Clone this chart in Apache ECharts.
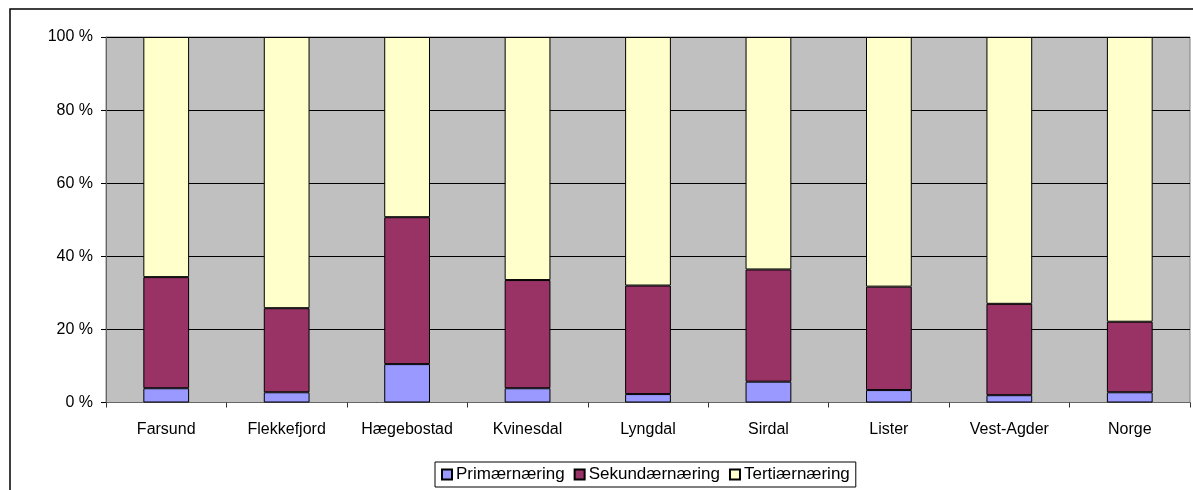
<!DOCTYPE html>
<html>
<head>
<meta charset="utf-8">
<script src="https://cdn.jsdelivr.net/npm/echarts@6/dist/echarts.min.js"></script>
<style>
html,body{margin:0;padding:0;background:#fff;}
#chart{width:1193px;height:490px;}
</style>
</head>
<body>
<div id="chart"></div>
<script>
var categories = ['Farsund','Flekkefjord','Hægebostad','Kvinesdal','Lyngdal','Sirdal','Lister','Vest-Agder','Norge'];
var primaer = [3.9, 2.8, 10.5, 3.9, 2.3, 5.7, 3.4, 2.0, 2.8];
var sekundaer = [30.4, 23.0, 40.2, 29.6, 29.7, 30.7, 28.3, 25.0, 19.3];
var tertiaer = [65.7, 74.2, 49.3, 66.5, 68.0, 63.6, 68.3, 73.0, 77.9];
var seriesNames = ['Primærnæring','Sekundærnæring','Tertiærnæring'];
var yTicks = [0, 20, 40, 60, 80, 100];

var colors = ['#9999FF','#993366','#FFFFCC'];
var font = 'Liberation Sans, Arial, sans-serif';
var chart = echarts.init(document.getElementById('chart'));
function mk(name, data, color){
  return {
    name: name, type: 'bar', stack: 'total', data: data,
    barWidth: '38%',
    itemStyle: {color: color, borderColor: '#000', borderWidth: 1},
    emphasis: {disabled: true}
  };
}
chart.setOption({
  animation: false,
  backgroundColor: '#fff',
  textStyle: {fontFamily: font},
  graphic: [{
    type: 'rect', silent: true, z: -1,
    shape: {x: 10, y: 9, width: 1300, height: 600},
    style: {fill: 'none', stroke: '#000', lineWidth: 1.5}
  }],
  grid: {
    left: 106, top: 37, right: 3, bottom: 87.5,
    show: true, backgroundColor: '#C0C0C0', borderColor: '#808080', borderWidth: 1
  },
  legend: {
    data: seriesNames,
    left: 435, top: 462,
    backgroundColor: '#fff', borderColor: '#000', borderWidth: 1,
    padding: [4, 6, 4, 6],
    itemGap: 9, itemWidth: 10, itemHeight: 10,
    icon: 'rect',
    textStyle: {fontSize: 17, color: '#000', fontFamily: font, padding: [0,0,0,-1]}
  },
  xAxis: {
    type: 'category', data: categories,
    axisLine: {lineStyle: {color: '#666', width: 1}},
    axisTick: {show: true, length: 5, lineStyle: {color: '#333'}},
    axisLabel: {fontSize: 16, color: '#000', margin: 19, fontFamily: font, interval: 0},
    splitLine: {show: false}
  },
  yAxis: {
    type: 'value', min: yTicks[0], max: yTicks[yTicks.length-1], interval: 20,
    axisLine: {show: true, lineStyle: {color: '#666', width: 1}},
    axisTick: {show: true, length: 5, lineStyle: {color: '#000'}},
    axisLabel: {fontSize: 16, color: '#000', margin: 13, fontFamily: font, formatter: '{value} %'},
    splitLine: {show: true, lineStyle: {color: '#000', width: 1}}
  },
  series: [
    mk(seriesNames[0], primaer, colors[0]),
    mk(seriesNames[1], sekundaer, colors[1]),
    mk(seriesNames[2], tertiaer, colors[2])
  ]
});
</script>
</body>
</html>
